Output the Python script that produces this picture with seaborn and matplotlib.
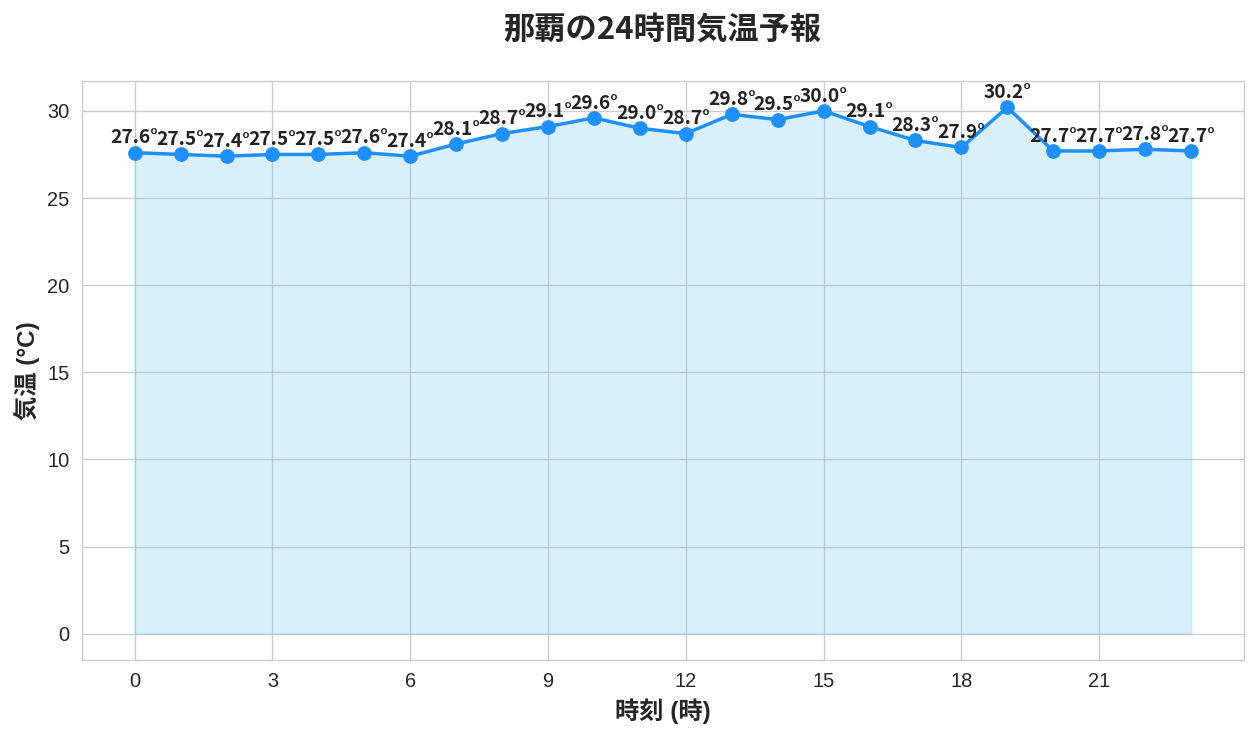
import numpy as np
import matplotlib
matplotlib.use("Agg")
import matplotlib.pyplot as plt
import seaborn as sns

# 24h forecast data
hours = list(range(24))
temps = [27.6, 27.5, 27.4, 27.5, 27.5, 27.6, 27.4, 28.1, 28.7, 29.1, 29.6, 29.0,
         28.7, 29.8, 29.5, 30.0, 29.1, 28.3, 27.9, 30.2, 27.7, 27.7, 27.8, 27.7]
xticks = [0, 3, 6, 9, 12, 15, 18, 21]

sns.set_style("whitegrid")
plt.rcParams['font.family'] = ['Liberation Sans', 'Noto Sans CJK JP', 'DejaVu Sans']
jp = ['Noto Sans CJK JP', 'DejaVu Sans']

fig, ax = plt.subplots(figsize=(1259 / 125, 737 / 125), dpi=125)
fig.subplots_adjust(left=0.065, right=0.988, top=0.890, bottom=0.1045)

sns.lineplot(x=hours, y=temps, ax=ax, color='#1E90FF', linewidth=2,
             marker='o', markersize=8.5, markeredgewidth=0)
ax.fill_between(hours, temps, 0, color='skyblue', alpha=0.3)

for h, t in zip(hours, temps):
    ax.annotate(f"{t:.1f}°", (h, t), xytext=(0, 3), textcoords='offset points',
                ha='center', va='bottom', fontsize=11, fontweight='bold',
                family=jp, color='#222222')

ax.set_xticks(xticks)
ax.tick_params(labelsize=11.5, colors='#262626')
ax.set_title('那覇の24時間気温予報', fontsize=18, fontweight='bold', family=jp, pad=24)
ax.set_xlabel('時刻 (時)', fontsize=14, fontweight='bold')
ax.set_ylabel('気温 (°C)', fontsize=14, fontweight='bold')
for s in ax.spines.values():
    s.set_color('#cccccc')

fig.savefig('out.png', dpi=125)
